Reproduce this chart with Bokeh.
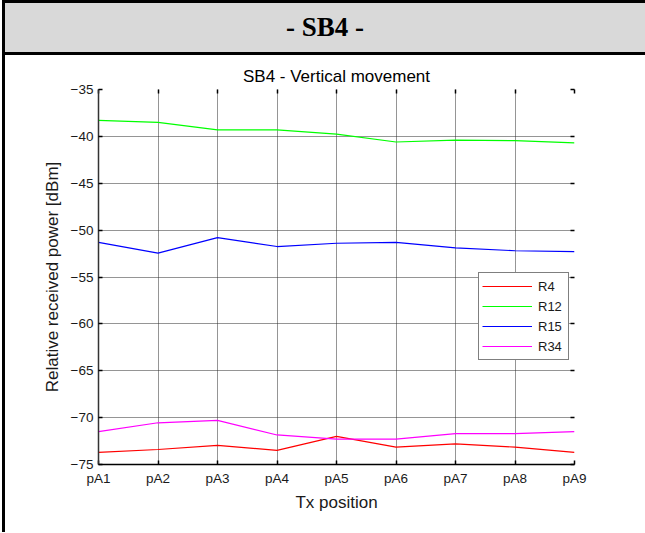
from bokeh.plotting import figure
from bokeh.models import Div, LinearAxis, FixedTicker, Range1d, Legend, LegendItem
from bokeh.layouts import column, row
from bokeh.embed import file_html
from bokeh.resources import INLINE

# ---- data ----
positions = ["pA1", "pA2", "pA3", "pA4", "pA5", "pA6", "pA7", "pA8", "pA9"]
y_ticks = [-75, -70, -65, -60, -55, -50, -45, -40, -35]
r4 = [-73.7, -73.4, -72.95, -73.5, -72.0, -73.15, -72.8, -73.15, -73.7]
r12 = [-38.3, -38.5, -39.3, -39.3, -39.75, -40.6, -40.4, -40.45, -40.7]
r15 = [-51.3, -52.45, -50.8, -51.75, -51.4, -51.3, -51.9, -52.2, -52.3]
r34 = [-71.5, -70.55, -70.3, -71.85, -72.3, -72.3, -71.7, -71.7, -71.5]
series_names = ["R4", "R12", "R15", "R34"]
series_colors = ["red", "lime", "blue", "magenta"]

x = list(range(1, len(positions) + 1))
series_values = [r4, r12, r15, r34]

SANS = "Liberation Sans"

p = figure(width=640, height=477, output_backend="svg", toolbar_location=None,
           x_range=Range1d(x[0], x[-1]), y_range=Range1d(y_ticks[0], y_ticks[-1]),
           min_border_left=93, min_border_right=71, min_border_top=34, min_border_bottom=68,
           title="SB4 - Vertical movement", margin=0)
p.title.align = "center"
p.title.text_font = SANS
p.title.text_font_size = "17px"
p.title.text_font_style = "normal"
p.title.text_color = "#000000"
p.title.standoff = 8
p.outline_line_color = None
p.background_fill_color = "white"
p.border_fill_color = "white"

rends = []
for vals, col in zip(series_values, series_colors):
    rends.append(p.line(x, vals, line_color=col, line_alpha=1.0, line_width=1.2))

# axes
for ax in (p.xaxis[0], p.yaxis[0]):
    ax.major_tick_in = 4
    ax.major_tick_out = 0
    ax.minor_tick_line_color = None
    ax.major_tick_line_color = "black"
    ax.major_tick_line_width = 1.5
    ax.major_label_text_font = SANS
    ax.major_label_text_font_size = "13.5px"
    ax.major_label_text_color = "#1a1a1a"
    ax.axis_label_text_font = SANS
    ax.axis_label_text_font_size = "17px"
    ax.axis_label_text_font_style = "normal"
    ax.axis_label_text_color = "#1a1a1a"
    ax.axis_line_width = 1.5

p.xaxis.ticker = FixedTicker(ticks=x)
p.xaxis.major_label_overrides = {i: lab for i, lab in zip(x, positions)}
p.xaxis.axis_label = "Tx position"
p.xaxis.axis_line_color = "black"
p.xaxis.major_label_standoff = 6
p.xaxis.axis_label_standoff = 4

p.yaxis.ticker = FixedTicker(ticks=y_ticks)
p.yaxis.axis_label = "Relative received power [dBm]"
p.yaxis.axis_line_color = "#333333"
p.yaxis.major_label_standoff = 5
p.yaxis.axis_label_standoff = 6

right_ax = LinearAxis(ticker=FixedTicker(ticks=y_ticks), major_label_text_color=None,
                      major_label_text_font_size="1px",
                      axis_line_color=None, major_tick_in=4, major_tick_out=0,
                      major_tick_line_width=1.5, minor_tick_line_color=None, major_label_standoff=0)
p.add_layout(right_ax, "right")
top_ax = LinearAxis(ticker=FixedTicker(ticks=x), major_label_text_color=None,
                    major_label_text_font_size="1px",
                    axis_line_color=None, major_tick_in=4, major_tick_out=0,
                    major_tick_line_width=1.5, minor_tick_line_color=None, major_label_standoff=0)
p.add_layout(top_ax, "above")

# grid
for g in (p.xgrid[0], p.ygrid[0]):
    g.grid_line_color = "#2a2a2a"
    g.grid_line_dash = "1 1"
    g.grid_line_width = 1

lg = Legend(items=[LegendItem(label=n, renderers=[r]) for n, r in zip(series_names, rends)],
            location=(380, 104), border_line_color="black", border_line_width=1,
            background_fill_color="white", background_fill_alpha=1.0,
            label_text_font=SANS, label_text_font_size="13px", label_text_color="#1a1a1a",
            glyph_width=50, glyph_height=20, label_height=20, label_width=27,
            label_standoff=6, padding=3, spacing=0, margin=0)
p.add_layout(lg)

top_strip = Div(text="", width=643, height=3, margin=0, styles={"background-color": "black"})
left_strip = Div(text="", width=3, height=529, margin=0, styles={"background-color": "black"})
header = Div(text="- SB4 -", width=640, height=52, margin=0,
             styles={"background-color": "#d9d9d9", "border-bottom": "3px solid black",
                     "border-left": "none", "border-right": "none", "border-top": "none",
                     "box-sizing": "border-box", "font-family": "Liberation Serif",
                     "font-weight": "bold", "font-size": "27px", "text-align": "center",
                     "line-height": "49px", "color": "black"})

root = column(top_strip, row(left_strip, column(header, p, margin=0, spacing=0), margin=0, spacing=0),
              margin=(0, 0, 0, 2), spacing=0)

open("out.html", "w").write(file_html(root, INLINE))
